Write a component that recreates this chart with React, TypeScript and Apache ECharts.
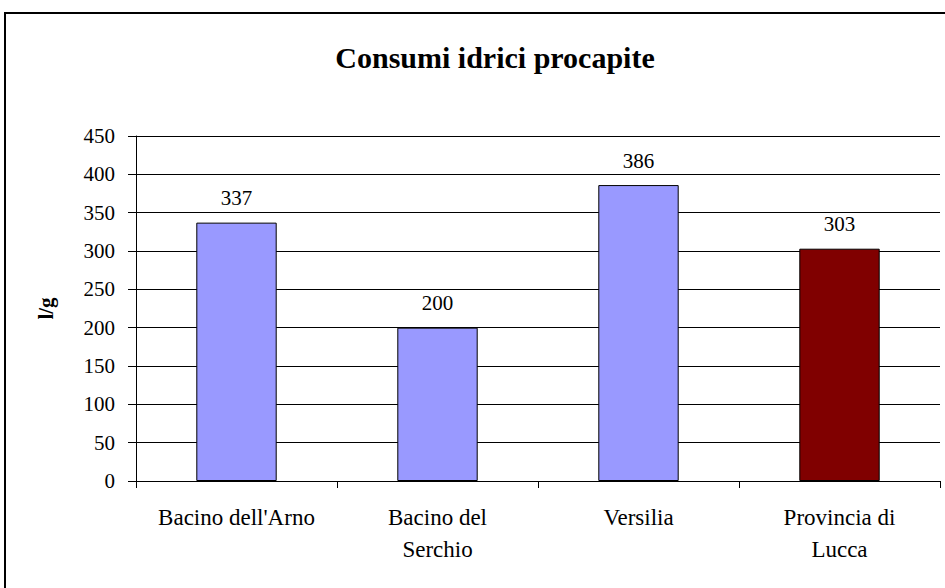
import React, { useEffect, useRef } from "react";
import * as echarts from "echarts";

const TITLE = "Consumi idrici procapite";
const Y_NAME = "l/g";
const CATEGORIES = ["Bacino dell'Arno", "Bacino del\nSerchio", "Versilia", "Provincia di\nLucca"];
const VALUES = [337, 200, 386, 303];
const BAR_COLORS = ["#9999FF", "#9999FF", "#9999FF", "#800000"];
const Y_MIN = 0;
const Y_MAX = 450;
const Y_STEP = 50;

const FONT = "'Liberation Serif', 'Times New Roman', serif";

export default function App() {
  const ref = useRef<HTMLDivElement>(null);
  useEffect(() => {
    if (!ref.current) return;
    const chart = echarts.init(ref.current, null, { renderer: "svg" });
    chart.setOption({
      animation: false,
      backgroundColor: "#ffffff",
      textStyle: { fontFamily: FONT, color: "#000" },
      title: {
        text: TITLE,
        left: 490,
        top: 37,
        textAlign: "center",
        textStyle: { fontFamily: FONT, fontSize: 30, fontWeight: "bold", color: "#000" },
      },
      graphic: [
        {
          type: "rect",
          shape: { x: 5, y: 13, width: 960, height: 600 },
          style: { fill: "none", stroke: "#000", lineWidth: 2 },
          silent: true,
          z: 100,
        },
      ],
      grid: { left: 136, right: 5, top: 136, bottom: 107, containLabel: false },
      xAxis: {
        type: "category",
        data: CATEGORIES,
        axisLine: { lineStyle: { color: "#000", width: 1 } },
        axisTick: { show: true, length: 7, lineStyle: { color: "#000" } },
        axisLabel: {
          interval: 0,
          margin: 20,
          fontFamily: FONT,
          fontSize: 23,
          lineHeight: 32,
          color: "#000",
        },
        splitLine: { show: false },
      },
      yAxis: {
        type: "value",
        min: Y_MIN,
        max: Y_MAX,
        interval: Y_STEP,
        name: Y_NAME,
        nameLocation: "middle",
        nameRotate: 90,
        nameGap: 80,
        nameTextStyle: { fontFamily: FONT, fontSize: 21, fontWeight: "bold", color: "#000" },
        axisLine: { show: true, lineStyle: { color: "#000", width: 1 } },
        axisTick: { show: true, length: 8, lineStyle: { color: "#000" } },
        axisLabel: { margin: 21, fontFamily: FONT, fontSize: 21, color: "#000" },
        splitLine: { show: true, lineStyle: { color: "#000", width: 1 } },
      },
      series: [
        {
          type: "bar",
          barWidth: "40%",
          data: VALUES.map((v, i) => ({
            value: v,
            itemStyle: { color: BAR_COLORS[i], borderColor: "#000", borderWidth: 1 },
          })),
          label: {
            show: true,
            position: "top",
            distance: 14,
            fontFamily: FONT,
            fontSize: 21,
            color: "#000",
          },
        },
      ],
    });
    return () => chart.dispose();
  }, []);
  return (
    <div
      ref={ref}
      style={{ position: "fixed", left: 0, top: 0, width: 945, height: 588, background: "#fff" }}
    />
  );
}
